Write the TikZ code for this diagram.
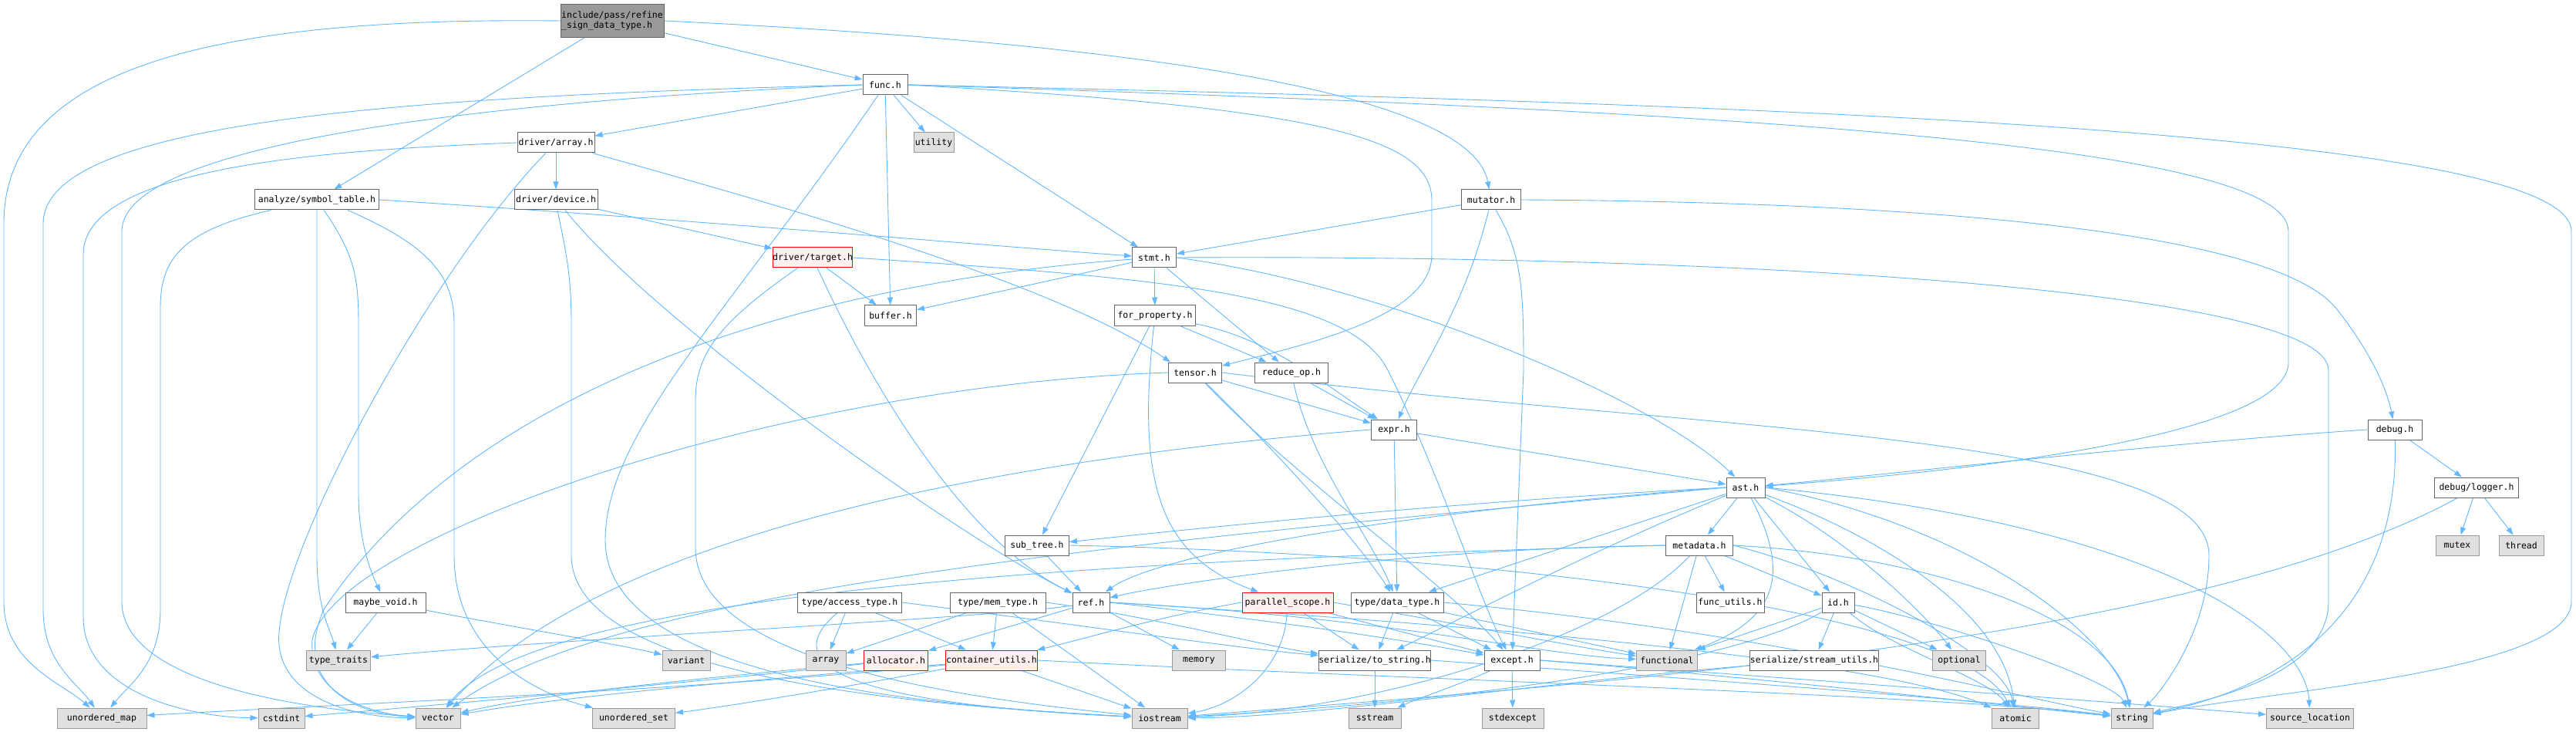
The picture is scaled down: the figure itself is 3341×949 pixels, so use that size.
\documentclass[tikz,border=0pt]{standalone}
\usepackage{fontspec}
\usetikzlibrary{arrows.meta,calc,backgrounds}
\newfontfamily\dfont{DejaVu Sans Mono}
\definecolor{edgec}{HTML}{63B8FF}
\definecolor{docb}{HTML}{666666}
\definecolor{sysb}{HTML}{999999}
\definecolor{sysf}{HTML}{E0E0E0}
\definecolor{redf}{HTML}{FFF0F0}
\begin{document}
\begin{tikzpicture}[x=1pt,y=-1pt,
  every node/.style={inner sep=0pt,minimum height=26pt,font=\dfont\fontsize{11.5}{13}\selectfont,line width=1pt},
  doc/.style={draw=docb,fill=white},
  sys/.style={draw=sysb,fill=sysf},
  redb/.style={draw=red,fill=redf},
  rootb/.style={draw=docb,fill=sysb,minimum height=43pt,align=left},
  edg/.style={draw=edgec,line width=0.9pt,-{Triangle[length=10pt,width=7pt]}}]
\useasboundingbox (0,0) rectangle (3341,949);
% nodes
\node[rootb,minimum width=134pt] (root) at (794,27) {include/pass/refine\\\_sign\_data\_type.h};
\node[doc,minimum width=58pt] (func) at (1148,110) {func.h};
\node[sys,minimum width=52pt] (utility) at (1211,185) {utility};
\node[doc,minimum width=100pt] (darray) at (721,185) {driver/array.h};
\node[doc,minimum width=161pt] (symtab) at (411,259) {analyze/symbol\_table.h};
\node[doc,minimum width=108pt] (ddevice) at (721,259) {driver/device.h};
\node[doc,minimum width=77pt] (mutator) at (1934,259) {mutator.h};
\node[redb,minimum width=102pt] (dtarget) at (1054,334) {driver/target.h};
\node[doc,minimum width=57pt] (stmt) at (1497,334) {stmt.h};
\node[doc,minimum width=67pt] (buffer) at (1155,409) {buffer.h};
\node[doc,minimum width=105pt] (forprop) at (1498,409) {for\_property.h};
\node[doc,minimum width=69pt] (tensor) at (1550,483) {tensor.h};
\node[doc,minimum width=95pt] (reduceop) at (1675,483) {reduce\_op.h};
\node[doc,minimum width=59pt] (expr) at (1808,557) {expr.h};
\node[doc,minimum width=70pt] (debug) at (3106,557) {debug.h};
\node[doc,minimum width=50pt] (ast) at (2264,632) {ast.h};
\node[doc,minimum width=109pt] (logger) at (3212,632) {debug/logger.h};
\node[doc,minimum width=83pt] (subtree) at (1345,707) {sub\_tree.h};
\node[doc,minimum width=87pt] (metadata) at (2204,707) {metadata.h};
\node[sys,minimum width=56pt] (mutex) at (3187,707) {mutex};
\node[sys,minimum width=58pt] (thread) at (3270,707) {thread};
\node[doc,minimum width=104pt] (maybevoid) at (500,781) {maybe\_void.h};
\node[doc,minimum width=135pt] (accesstype) at (1102,781) {type/access\_type.h};
\node[doc,minimum width=124pt] (memtype) at (1294,781) {type/mem\_type.h};
\node[doc,minimum width=48pt] (ref) at (1415,781) {ref.h};
\node[redb,minimum width=118pt] (parscope) at (1670,781) {parallel\_scope.h};
\node[doc,minimum width=120pt] (datatype) at (1812,781) {type/data\_type.h};
\node[doc,minimum width=88pt] (funcutils) at (2244,781) {func\_utils.h};
\node[doc,minimum width=42pt] (id) at (2384,781) {id.h};
\node[sys,minimum width=83pt] (typetraits) at (439,856) {type\_traits};
\node[sys,minimum width=62pt] (variant) at (890,856) {variant};
\node[sys,minimum width=52pt] (array) at (1071,856) {array};
\node[redb,minimum width=83pt] (allocator) at (1162,856) {allocator.h};
\node[redb,minimum width=119pt] (contutils) at (1286,856) {container\_utils.h};
\node[sys,minimum width=69pt] (memory) at (1555,856) {memory};
\node[doc,minimum width=136pt] (tostring) at (1783,856) {serialize/to\_string.h};
\node[doc,minimum width=72pt] (except) at (1961,856) {except.h};
\node[sys,minimum width=79pt] (functional) at (2162,856) {functional};
\node[doc,minimum width=157pt] (streamutils) at (2353,856) {serialize/stream\_utils.h};
\node[sys,minimum width=69pt] (optional) at (2541,856) {optional};
\node[sys,minimum width=116pt] (umap) at (132,931) {unordered\_map};
\node[sys,minimum width=60pt] (cstdint) at (365,931) {cstdint};
\node[sys,minimum width=58pt] (vector) at (568,931) {vector};
\node[sys,minimum width=107pt] (uset) at (822,931) {unordered\_set};
\node[sys,minimum width=72pt] (iostream) at (1504,931) {iostream};
\node[sys,minimum width=68pt] (sstream) at (1783,931) {sstream};
\node[sys,minimum width=80pt] (stdexcept) at (1962,931) {stdexcept};
\node[sys,minimum width=61pt] (atomic) at (2614,931) {atomic};
\node[sys,minimum width=54pt] (string) at (2765,931) {string};
\node[sys,minimum width=113pt] (srcloc) at (2996,931) {source\_location};
% ---------- edges (behind the boxes)
\begin{pgfonlayer}{background}
\fill[white] (0,0) rectangle (3341,949);
% root
\draw[edg] (root.west) .. controls (300,22) and (5,80) .. (5,290) -- (5,780) .. controls (5,860) and (80,885) .. (umap);
\draw[edg] (root) -- (symtab);
\draw[edg] (root) -- (func);
\draw[edg] (root.east) .. controls (1550,60) and (1910,130) .. (mutator);
% func
\draw[edg] (func) -- (darray);
\draw[edg] (func.west) .. controls (500,125) and (56,160) .. (56,290) -- (56,790) .. controls (56,860) and (100,885) .. (umap);
\draw[edg] (func.west) .. controls (600,132) and (158,190) .. (158,300) -- (158,780) .. controls (158,870) and (330,915) .. (vector);
\draw[edg] (func) -- (utility);
\draw[edg] (func) -- (buffer);
\draw[edg] (func) -- (stmt);
\draw[edg] (func.east) .. controls (2300,135) and (3335,170) .. (3335,300) -- (3335,780) .. controls (3335,870) and (2950,895) .. (string);
\draw[edg] (func.east) .. controls (2300,145) and (2968,190) .. (2968,300) -- (2968,470) .. controls (2968,570) and (2500,615) .. (ast);
\draw[edg] (func.east) .. controls (1720,140) and (1857,180) .. (1857,260) -- (1857,330) .. controls (1857,410) and (1700,445) .. (tensor);
\draw[edg] (func) .. controls (950,400) and (785,560) .. (785,700) .. controls (785,880) and (1200,915) .. (iostream);
% darray
\draw[edg] (darray.west) .. controls (400,195) and (108,220) .. (108,330) -- (108,800) .. controls (108,900) and (250,930) .. (cstdint);
\draw[edg] (darray) .. controls (560,350) and (370,700) .. (362,820) .. controls (355,900) and (450,930) .. (vector);
\draw[edg] (darray) -- (ddevice);
\draw[edg] (darray) .. controls (950,250) and (1360,360) .. ($(tensor.north west)+(3,0)$);
% symtab
\draw[edg] (symtab) .. controls (230,300) and (208,340) .. (208,400) -- (208,790) .. controls (208,860) and (170,885) .. (umap);
\draw[edg] (symtab.south) -- (411,720) .. controls (411,790) and (428,815) .. (typetraits);
\draw[edg] ($(symtab.south)+(9,0)$) .. controls (460,330) and (465,360) .. (465,420) -- (465,640) .. controls (465,700) and (480,740) .. (maybevoid);
\draw[edg] ($(symtab.south)+(40,0)$) .. controls (560,320) and (589,360) .. (589,420) -- (589,720) .. controls (589,850) and (700,900) .. (uset);
\draw[edg] (symtab.east) .. controls (900,285) and (1300,320) .. (stmt);
% maybe_void
\draw[edg] (maybevoid) -- (typetraits);
\draw[edg] (maybevoid) .. controls (650,810) and (800,835) .. (variant);
% ddevice
\draw[edg] (ddevice) -- (dtarget);
\draw[edg] ($(ddevice.south)+(2,0)$) .. controls (735,330) and (741,360) .. (741,420) -- (741,720) .. controls (741,880) and (1200,915) .. (iostream);
\draw[edg] ($(ddevice.south)+(12,0)$) .. controls (850,420) and (1250,700) .. (ref);
% dtarget
\draw[edg] (dtarget) -- (buffer);
\draw[edg] (dtarget) .. controls (1130,500) and (1250,700) .. (ref);
\draw[edg] (dtarget) .. controls (930,420) and (902,460) .. (902,520) -- (902,710) .. controls (902,860) and (1250,905) .. (iostream);
\draw[edg] (dtarget.east) .. controls (1500,360) and (1750,380) .. (1800,480) .. controls (1870,620) and (1920,780) .. (except);
% stmt
\draw[edg] (stmt) -- (buffer);
\draw[edg] (stmt) -- (forprop);
\draw[edg] (stmt) -- (reduceop);
\draw[edg] (stmt.east) .. controls (1800,370) and (2150,520) .. (ast);
\draw[edg] (stmt.east) .. controls (2300,330) and (3020,380) .. (3020,480) -- (3020,780) .. controls (3020,880) and (2850,910) .. (string);
\draw[edg] (stmt) .. controls (1000,370) and (600,520) .. (420,790) .. controls (380,880) and (450,925) .. (vector);
% forprop
\draw[edg] (forprop) -- (subtree);
\draw[edg] (forprop) .. controls (1475,620) and (1500,720) .. (parscope);
\draw[edg] (forprop) -- (reduceop);
\draw[edg] (forprop) .. controls (1650,440) and (1720,500) .. (expr);
% tensor
\draw[edg] (tensor.west) .. controls (1000,500) and (430,700) .. (405,830) .. controls (400,900) and (480,925) .. (vector);
\draw[edg] (tensor) -- (expr);
\draw[edg] (tensor) .. controls (1650,580) and (1760,700) .. (datatype);
\draw[edg] (tensor) .. controls (1680,620) and (1880,760) .. (except);
\draw[edg] (tensor.east) .. controls (2200,560) and (2865,560) .. (2865,720) .. controls (2865,820) and (2800,900) .. (string);
% reduce_op
\draw[edg] (reduceop) -- (expr);
\draw[edg] (reduceop) .. controls (1700,600) and (1780,700) .. (datatype);
% expr
\draw[edg] (expr) -- (ast);
\draw[edg] (expr) -- (datatype);
\draw[edg] (expr.west) .. controls (1000,620) and (700,780) .. (vector);
% ast
\draw[edg] (ast.west) .. controls (1900,650) and (1600,680) .. (subtree);
\draw[edg] (ast) -- (datatype);
\draw[edg] (ast) .. controls (2050,720) and (1900,800) .. (tostring);
\draw[edg] (ast) -- (metadata);
\draw[edg] (ast) .. controls (2320,740) and (2310,800) .. (functional);
\draw[edg] (ast) -- (id);
\draw[edg] (ast.west) .. controls (1800,665) and (1500,720) .. (ref);
\draw[edg] (ast.west) .. controls (1500,700) and (800,760) .. (vector);
\draw[edg] (ast) .. controls (2400,700) and (2500,800) .. (optional);
\draw[edg] (ast) .. controls (2450,700) and (2600,800) .. (atomic);
\draw[edg] (ast.east) .. controls (2550,680) and (2740,820) .. (string);
\draw[edg] (ast.east) .. controls (2800,680) and (2990,820) .. (srcloc);
% metadata
\draw[edg] (metadata) -- (id);
\draw[edg] (metadata) -- (funcutils);
\draw[edg] (metadata) -- (functional);
\draw[edg] (metadata.west) .. controls (1800,712) and (1500,760) .. (ref);
\draw[edg] (metadata.west) .. controls (1500,725) and (700,760) .. (vector);
\draw[edg] (metadata) .. controls (2100,820) and (1800,920) .. (iostream);
\draw[edg] (metadata.east) .. controls (2500,720) and (2740,800) .. (string);
\draw[edg] (metadata.east) .. controls (2400,745) and (2600,850) .. (atomic);
% id
\draw[edg] (id) -- (streamutils);
\draw[edg] (id) -- (functional);
\draw[edg] (id) .. controls (2250,860) and (1900,910) .. (iostream);
\draw[edg] (id) .. controls (2450,840) and (2580,880) .. (atomic);
\draw[edg] (id) .. controls (2500,800) and (2740,880) .. (string);
\draw[edg] (id) -- (optional);
% stream utils
\draw[edg] (streamutils) .. controls (2000,885) and (1700,930) .. (iostream);
% data type
\draw[edg] (datatype) -- (tostring);
\draw[edg] (datatype) -- (except);
\draw[edg] (datatype) -- (functional);
\draw[edg] (datatype.east) .. controls (2300,820) and (2600,900) .. (string);
% parallel scope
\draw[edg] (parscope) -- (tostring);
\draw[edg] (parscope) -- (except);
\draw[edg] (parscope) .. controls (1665,870) and (1600,915) .. (iostream);
\draw[edg] (parscope.west) .. controls (1500,800) and (1400,830) .. (contutils);
\draw[edg] (parscope.east) .. controls (1900,810) and (2050,840) .. (functional);
% sub tree
\draw[edg] (subtree) -- (ref);
\draw[edg] (subtree.east) .. controls (2000,720) and (2550,800) .. (atomic);
% ref
\draw[edg] (ref) -- (memory);
\draw[edg] (ref) -- (allocator);
\draw[edg] (ref.east) .. controls (1800,800) and (2000,850) .. (functional);
\draw[edg] (ref.east) .. controls (2000,815) and (2450,860) .. (atomic);
\draw[edg] (ref) .. controls (1300,800) and (700,830) .. (typetraits);
\draw[edg] (ref.east) .. controls (1700,810) and (1850,835) .. (except);
% access type
\draw[edg] (accesstype) -- (array);
\draw[edg] (accesstype) -- (contutils);
\draw[edg] (accesstype) .. controls (1020,850) and (1050,910) .. (iostream);
\draw[edg] (accesstype.east) .. controls (1400,810) and (1600,840) .. (tostring);
% mem type
\draw[edg] (memtype) -- (array);
\draw[edg] (memtype) -- (contutils);
\draw[edg] (memtype) -- (iostream);
\draw[edg] (memtype.east) .. controls (1500,800) and (1650,840) .. (tostring);
% allocator
\draw[edg] (allocator) .. controls (900,885) and (500,920) .. (cstdint);
\draw[edg] (allocator) .. controls (900,880) and (700,900) .. (vector);
% container utils
\draw[edg] (contutils) .. controls (1100,890) and (950,915) .. (uset);
\draw[edg] (contutils) .. controls (1000,880) and (750,900) .. (vector);
\draw[edg] (contutils) -- (iostream);
\draw[edg] (contutils) .. controls (900,895) and (400,915) .. (umap);
\draw[edg] (contutils.east) .. controls (1800,880) and (2500,900) .. (string);
% to string
\draw[edg] (tostring) -- (sstream);
\draw[edg] (tostring.east) .. controls (2200,880) and (2600,910) .. (string);
% except
\draw[edg] (except) -- (stdexcept);
\draw[edg] (except.east) .. controls (2300,880) and (2600,915) .. (string);
\draw[edg] (except.east) .. controls (2400,885) and (2800,915) .. (srcloc);
\draw[edg] (except) .. controls (1900,885) and (1840,905) .. (sstream);
% debug
\draw[edg] (debug.west) .. controls (2800,575) and (2450,615) .. (ast);
\draw[edg] (debug) -- (logger);
\draw[edg] (debug) .. controls (3110,700) and (3060,870) .. (string);
% logger
\draw[edg] (logger) -- (mutex);
\draw[edg] (logger) -- (thread);
\draw[edg] (logger) .. controls (2850,830) and (2100,885) .. (iostream);
% mutator
\draw[edg] (mutator) -- (stmt);
\draw[edg] (mutator) .. controls (1900,400) and (1840,480) .. (expr);
\draw[edg] ($(mutator.south)+(6,0)$) .. controls (1975,330) and (1976,380) .. (1976,480) -- (except);
\draw[edg] (mutator.east) .. controls (2500,262) and (2950,300) .. (3030,400) .. controls (3070,450) and (3095,500) .. (debug);
\end{pgfonlayer}
\end{tikzpicture}
\end{document}
